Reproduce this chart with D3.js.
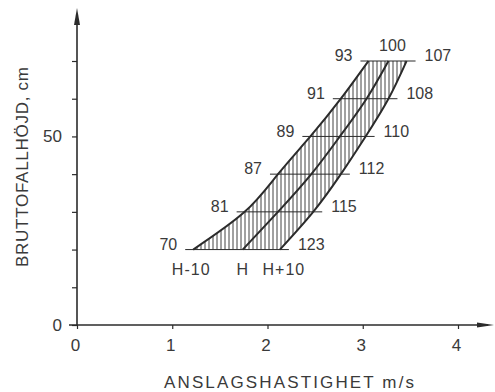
<!DOCTYPE html>
<html><head><meta charset="utf-8">
<script src="https://cdn.jsdelivr.net/npm/d3@7"></script>
<style>
html,body{margin:0;padding:0;background:#fff;}
svg text{font-family:"Liberation Sans",Arial,sans-serif;fill:#3a3a3a;}
</style></head>
<body>
<svg id="c" width="495" height="392"></svg>
<script>
// ---- data ----
const heights = [20, 30, 40, 50, 60, 70];              // cm
const speedHm10 = [1.22, 1.76, 2.11, 2.45, 2.77, 3.06]; // m/s, curve H-10
const speedH    = [1.74, 2.11, 2.46, 2.76, 3.04, 3.27]; // m/s, curve H
const speedHp10 = [2.13, 2.48, 2.77, 3.03, 3.27, 3.46]; // m/s, curve H+10
const leftLabels  = ["70", "81", "87", "89", "91", "93"];
const rightLabels = ["123", "115", "112", "110", "108", "107"];
const topLabel = "100";
const curveNames = ["H-10", "H", "H+10"];
const xTicks = [0, 1, 2, 3, 4];
const yTicks = [0, 10, 20, 30, 40, 50, 60, 70];
const yLabeled = [0, 50];
const xTitle = "ANSLAGSHASTIGHET m/s";
const yTitle = "BRUTTOFALLHÖJD, cm";

// ---- drawing ----
const svg = d3.select("#c");
const ink = "#2b2b2b";
const x = d3.scaleLinear().domain([0, 4]).range([77, 458]);
const y = d3.scaleLinear().domain([0, 70]).range([325, 61]);

// hatch pattern
const defs = svg.append("defs");
const pat = defs.append("pattern").attr("id", "hatch").attr("patternUnits", "userSpaceOnUse")
  .attr("width", 4).attr("height", 10);
pat.append("line").attr("x1", 1).attr("x2", 1).attr("y1", 0).attr("y2", 10)
  .attr("stroke", ink).attr("stroke-width", 0.9);

const ptsOf = arr => arr.map((v, i) => [x(v), y(heights[i])]);
const line = d3.line().curve(d3.curveNatural);

// hatched band between H-10 and H+10
const leftPts = ptsOf(speedHm10);
const rightPts = ptsOf(speedHp10).slice().reverse();
const bandPath = line(leftPts) + line(rightPts).replace(/^M/, "L") + "Z";
svg.append("path").attr("d", bandPath).attr("fill", "url(#hatch)").attr("stroke", "none");

// horizontal level lines
heights.forEach((h, i) => {
  const x1 = x(speedHm10[i]) - 8, x2 = x(speedHp10[i]) + 9, yy = y(h);
  svg.append("line").attr("x1", x1).attr("x2", x2).attr("y1", yy).attr("y2", yy)
    .attr("stroke", ink).attr("stroke-width", 1);
  svg.append("text").attr("x", x1 - 8).attr("y", yy - 4).attr("text-anchor", "end")
    .attr("dominant-baseline", "middle").attr("font-size", 16).text(leftLabels[i]);
  svg.append("text").attr("x", x2 + 9).attr("y", yy - 4).attr("text-anchor", "start")
    .attr("dominant-baseline", "middle").attr("font-size", 16).text(rightLabels[i]);
});
svg.append("text").attr("x", x(speedH[speedH.length - 1]) + 4).attr("y", y(70) - 14)
  .attr("text-anchor", "middle").attr("dominant-baseline", "middle").attr("font-size", 16).text(topLabel);

// the three curves
[speedHm10, speedH, speedHp10].forEach((arr, k) => {
  svg.append("path").attr("d", line(ptsOf(arr))).attr("fill", "none")
    .attr("stroke", ink).attr("stroke-width", 2);
  svg.append("text").attr("x", x(arr[0]) + (k === 0 ? -2 : k === 2 ? 4 : 0)).attr("y", y(20) + 25)
    .attr("text-anchor", "middle").attr("font-size", 16).attr("letter-spacing", 1)
    .text(curveNames[k]);
});

// axes
const yAxis = d3.axisLeft(y).tickValues(yTicks).tickSize(5).tickPadding(10)
  .tickFormat(d => yLabeled.includes(d) ? d : "");
const gy = svg.append("g").attr("transform", `translate(${x(0)},0)`).call(yAxis);
const xAxis = d3.axisBottom(x).tickValues(xTicks).tickSize(4).tickPadding(10)
  .tickFormat(d3.format("d"));
const gx = svg.append("g").attr("transform", `translate(0,${y(0)})`).call(xAxis);
[gy, gx].forEach(g => {
  g.select(".domain").remove();
  g.selectAll(".tick line").attr("stroke", ink).attr("stroke-width", 1.2);
  g.selectAll(".tick text").attr("font-size", 17).attr("font-family", "Liberation Sans, Arial, sans-serif").attr("fill", "#3a3a3a");
});
gx.selectAll(".tick text").attr("dx", "-2");

// axis lines with arrows
svg.append("line").attr("x1", x(0)).attr("x2", x(0)).attr("y1", y(0)).attr("y2", 14)
  .attr("stroke", ink).attr("stroke-width", 1.6);
svg.append("path").attr("d", `M${x(0)},8 L${x(0) - 3},25 L${x(0) + 3},25 Z`).attr("fill", ink);
svg.append("line").attr("x1", x(0) - 8).attr("x2", 488).attr("y1", y(0)).attr("y2", y(0))
  .attr("stroke", ink).attr("stroke-width", 1.6);
svg.append("path").attr("d", `M494,${y(0)} L477,${y(0) - 2.5} L477,${y(0) + 2.5} Z`).attr("fill", ink);

// titles
svg.append("text").attr("x", 289).attr("y", 388).attr("text-anchor", "middle")
  .attr("font-size", 17).attr("textLength", 250).attr("lengthAdjust", "spacing").text(xTitle);
svg.append("text").attr("transform", "translate(28,167) rotate(-90)").attr("text-anchor", "middle")
  .attr("font-size", 17).attr("textLength", 200).attr("lengthAdjust", "spacing").text(yTitle);
</script>
</body></html>
